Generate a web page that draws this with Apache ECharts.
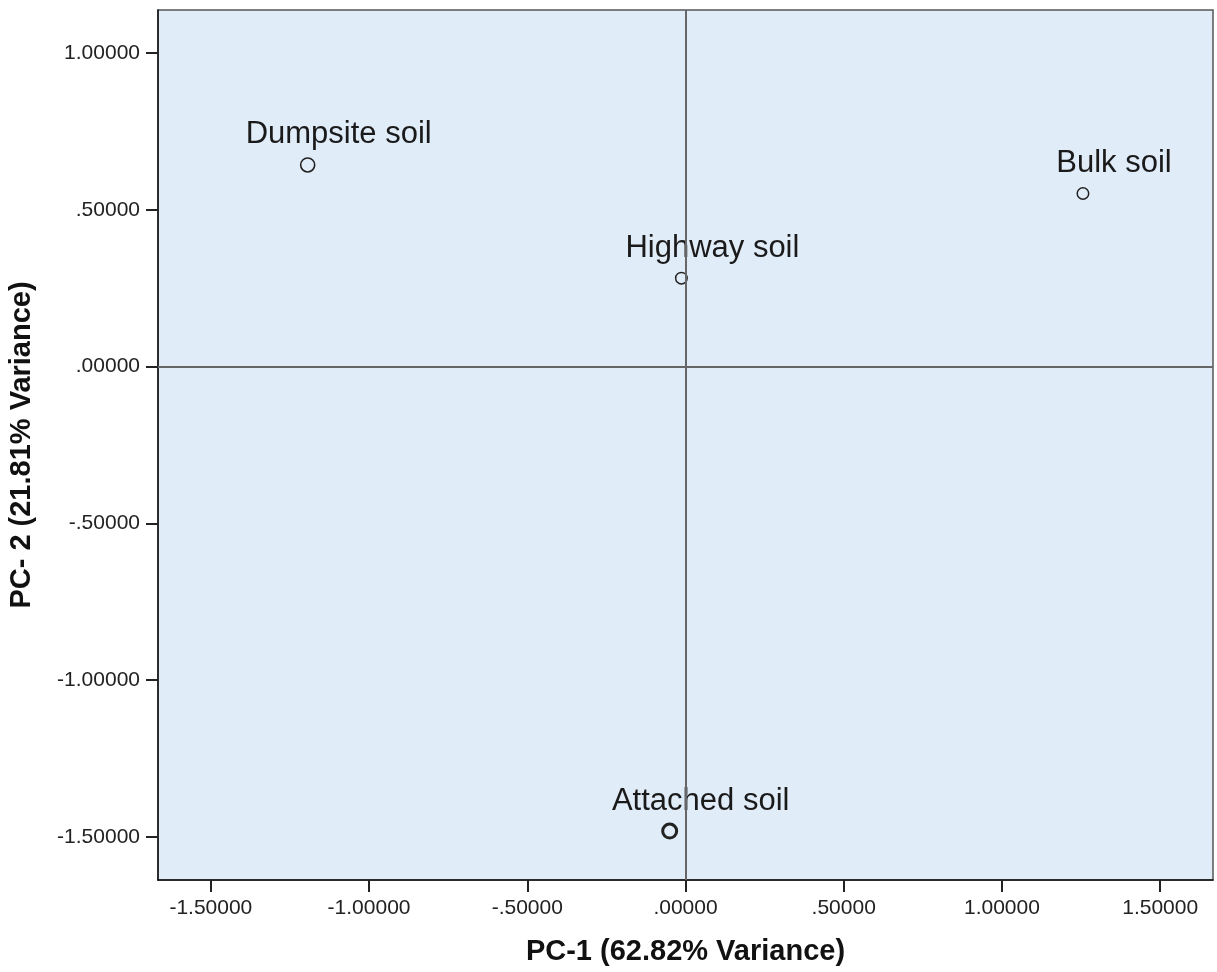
<!DOCTYPE html>
<html>
<head>
<meta charset="utf-8">
<script src="https://cdn.jsdelivr.net/npm/echarts@6/dist/echarts.min.js"></script>
<style>
  html, body { margin: 0; padding: 0; background: #ffffff; }
  #chart { width: 1217px; height: 972px; }
</style>
</head>
<body>
<div id="chart"></div>
<script>
// ---- data ----
const sampleNames = ['Dumpsite soil', 'Bulk soil', 'Highway soil', 'Attached soil'];
const pc1Values = [-1.194, 1.256, -0.013, -0.050];
const pc2Values = [0.643, 0.552, 0.282, -1.481];
const xTickValues = [-1.5, -1.0, -0.5, 0.0, 0.5, 1.0, 1.5];
const yTickValues = [-1.5, -1.0, -0.5, 0.0, 0.5, 1.0];
const xAxisTitle = 'PC-1 (62.82% Variance)';
const yAxisTitle = 'PC- 2 (21.81% Variance)';

// ---- helpers ----
function spssFmt(v) {
  let s = Math.abs(v).toFixed(5);
  if (s.startsWith('0')) s = s.slice(1);
  return (v < -1e-9 ? '-' : '') + s;
}

const symbolSizes = [14, 11.5, 11.5, 14];
const borderWidths = [1.6, 1.5, 1.5, 3];

const points = sampleNames.map((name, i) => ({
  name: name,
  value: [pc1Values[i], pc2Values[i]],
  symbolSize: symbolSizes[i],
  itemStyle: { borderWidth: borderWidths[i] }
}));

const chart = echarts.init(document.getElementById('chart'), null, { renderer: 'canvas' });

const axisFont = { fontFamily: 'Liberation Sans, Arial, sans-serif', color: '#111' };

chart.setOption({
  animation: false,
  backgroundColor: '#ffffff',
  grid: {
    left: 158, right: 4, top: 10, bottom: 92,
    outerBoundsMode: 'none',
    containLabel: false,
    show: true,
    backgroundColor: '#E1ECF9',
    borderColor: '#555555',
    borderWidth: 1.5
  },
  xAxis: {
    type: 'value',
    min: -1.667, max: 1.667,
    name: xAxisTitle,
    nameLocation: 'middle',
    nameGap: 72,
    nameMoveOverlap: false,
    nameTextStyle: Object.assign({ fontSize: 29, fontWeight: 'bold', verticalAlign: 'middle' }, axisFont),
    axisLine: { show: true, onZero: false, lineStyle: { color: '#111', width: 1.5 } },
    axisTick: { show: true, length: 12, customValues: xTickValues, lineStyle: { color: '#222', width: 2 } },
    axisLabel: { customValues: xTickValues, margin: 18, fontSize: 21, formatter: spssFmt, ...axisFont, color: '#222' },
    splitLine: { show: false }
  },
  yAxis: {
    type: 'value',
    min: -1.637, max: 1.137,
    name: yAxisTitle,
    nameLocation: 'middle',
    nameGap: 136,
    nameMoveOverlap: false,
    nameRotate: 90,
    nameTextStyle: Object.assign({ fontSize: 29, fontWeight: 'bold', verticalAlign: 'middle' }, axisFont),
    axisLine: { show: true, onZero: false, lineStyle: { color: '#111', width: 1.5 } },
    axisTick: { show: true, length: 12, customValues: yTickValues, lineStyle: { color: '#222', width: 2 } },
    axisLabel: { customValues: yTickValues, margin: 18, fontSize: 21, formatter: spssFmt, ...axisFont, color: '#222' },
    splitLine: { show: false }
  },
  series: [{
    type: 'scatter',
    data: points,
    symbol: 'circle',
    itemStyle: { color: 'rgba(0,0,0,0)', borderColor: '#222222', opacity: 1 },
    label: {
      show: true,
      position: 'inside',
      offset: [31, -30],
      formatter: p => p.name,
      fontSize: 31,
      fontFamily: 'Liberation Sans, Arial, sans-serif',
      color: '#1a1a1a',
      textBorderWidth: 0,
      opacity: 1
    },
    markLine: {
      silent: true,
      symbol: 'none',
      label: { show: false },
      lineStyle: { color: '#666666', width: 2, type: 'solid', opacity: 1 },
      data: [{ xAxis: 0 }, { yAxis: 0 }]
    },
    z: 3
  }]
});
</script>
</body>
</html>
